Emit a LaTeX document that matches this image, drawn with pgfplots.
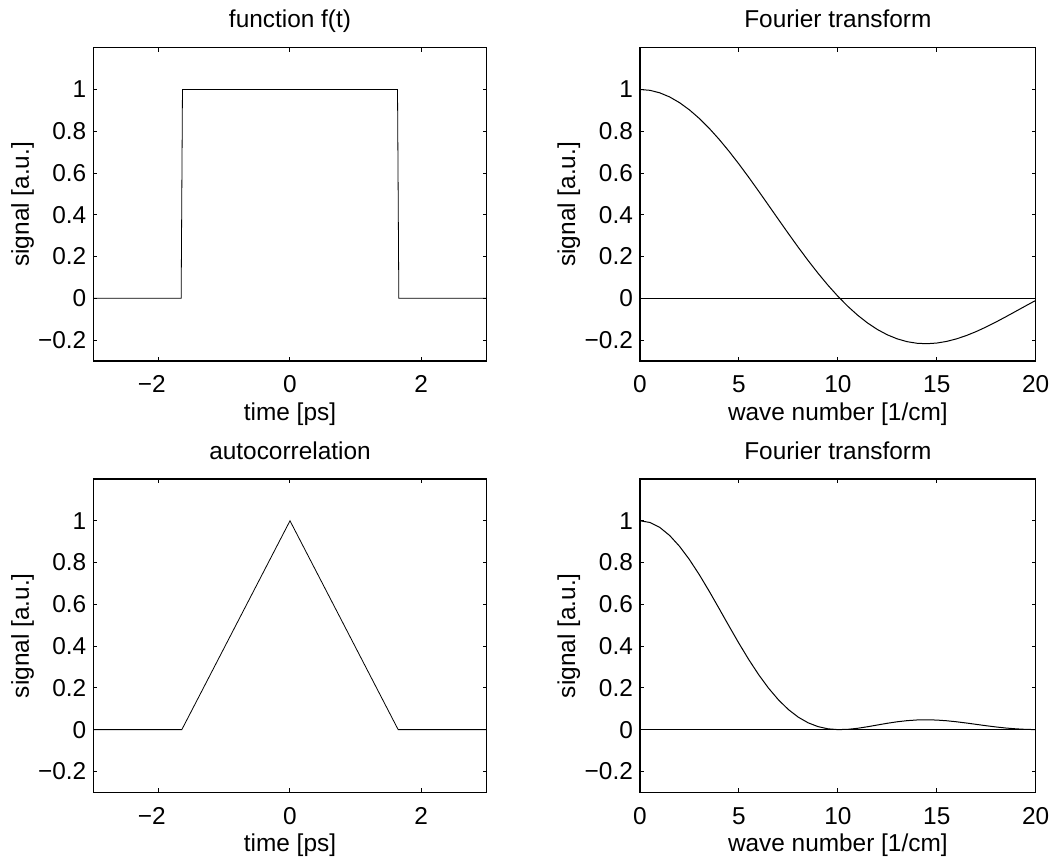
\documentclass[border=0pt]{standalone}
\usepackage{fontspec}
\setmainfont{Liberation Sans}
\usepackage{pgfplots}
\pgfplotsset{compat=1.18}
\pgfplotsset{
  every axis title/.style={at={(0.5,1)}, anchor=base, yshift=10pt, inner sep=0pt},
  mstyle/.style={
    scale only axis, height=156.65pt,
    ymin=-0.3, ymax=1.2,
    ytick={-0.2,0,0.2,0.4,0.6,0.8,1},
    yticklabels={−0.2,0,0.2,0.4,0.6,0.8,1},
    tick align=inside, major tick length=2pt,
    axis line style={line width=0.7pt, black},
    every tick/.style={black, line width=0.5pt},
    xticklabel style={anchor=base, yshift=-15.85pt, inner sep=0pt},
    yticklabel style={anchor=east, xshift=-3.35pt, inner sep=0pt},
    xlabel style={at={(axis description cs:0.5,0)}, anchor=base, yshift=-29.5pt, inner sep=0pt},
    ylabel style={at={(axis description cs:-0.18,0.5)}, anchor=center, rotate=0, inner sep=0pt},
    ylabel={signal [a.u.]},
    cycle list={{black, line width=0.5pt, no markers}},
  },
  tstyle/.style={mstyle, width=196.7pt, xmin=-3, xmax=3, xtick={-2,0,2},
    xticklabels={\llap{−}2,0,2}, xlabel={time [ps]}},
  fstyle/.style={mstyle, width=197.85pt, xmin=0, xmax=20, xtick={0,5,10,15,20},
    xticklabels={0,5,10,15,20}, xlabel={wave number [1/cm]}},
}
\begin{document}
\fontsize{12.2}{14}\selectfont
\begin{tikzpicture}
\path[use as bounding box] (0,0) rectangle (528.5pt,429.5pt);

\begin{axis}[tstyle, at={(46.65pt,249pt)}, anchor=south west, title={function f(t)}]
\addplot coordinates {(-3,0) (-1.66,0) (-1.64,1) (1.64,1) (1.66,0) (3,0)};
\end{axis}

\begin{axis}[fstyle, at={(320pt,249pt)}, anchor=south west, title={Fourier transform}]
\addplot coordinates {(0,0) (20,0)};
\addplot coordinates {
(0,1) (0.5,0.99597) (1,0.98396) (1.5,0.96412) (2,0.93675) (2.5,0.90224)
(3,0.86109) (3.5,0.81388) (4,0.76128) (4.5,0.70405) (5,0.64296) (5.5,0.57888)
(6,0.51267) (6.5,0.44523) (7,0.37744) (7.5,0.31019) (8,0.24432) (8.5,0.18066)
(9,0.11995) (9.5,0.06289) (10,0.01009) (10.5,-0.03791) (11,-0.08067) (11.5,-0.11786)
(12,-0.14921) (12.5,-0.17461) (13,-0.19399) (13.5,-0.20744) (14,-0.21509) (14.5,-0.21720)
(15,-0.21411) (15.5,-0.20622) (16,-0.19399) (16.5,-0.17797) (17,-0.15872) (17.5,-0.13685)
(18,-0.11299) (18.5,-0.08776) (19,-0.06179) (19.5,-0.03571) (20,-0.01009)};
\end{axis}

\begin{axis}[tstyle, at={(46.65pt,33.35pt)}, anchor=south west, title={autocorrelation}]
\addplot coordinates {(-3,0) (-1.65,0) (0,1) (1.65,0) (3,0)};
\end{axis}

\begin{axis}[fstyle, at={(320pt,33.35pt)}, anchor=south west, title={Fourier transform}]
\addplot coordinates {(0,0) (20,0)};
\addplot coordinates {
(0,1) (0.5,0.99196) (1,0.96818) (1.5,0.92953) (2,0.87750) (2.5,0.81404)
(3,0.74148) (3.5,0.66240) (4,0.57955) (4.5,0.49569) (5,0.41340) (5.5,0.33510)
(6,0.26283) (6.5,0.19823) (7,0.14246) (7.5,0.09622) (8,0.05969) (8.5,0.03264)
(9,0.01439) (9.5,0.00396) (10,0.00010) (10.5,0.00144) (11,0.00651) (11.5,0.01389)
(12,0.02226) (12.5,0.03049) (13,0.03763) (13.5,0.04303) (14,0.04626) (14.5,0.04718)
(15,0.04584) (15.5,0.04253) (16,0.03763) (16.5,0.03167) (17,0.02519) (17.5,0.01873)
(18,0.01277) (18.5,0.00770) (19,0.00382) (19.5,0.00128) (20,0.00010)};
\end{axis}
\end{tikzpicture}
\end{document}
